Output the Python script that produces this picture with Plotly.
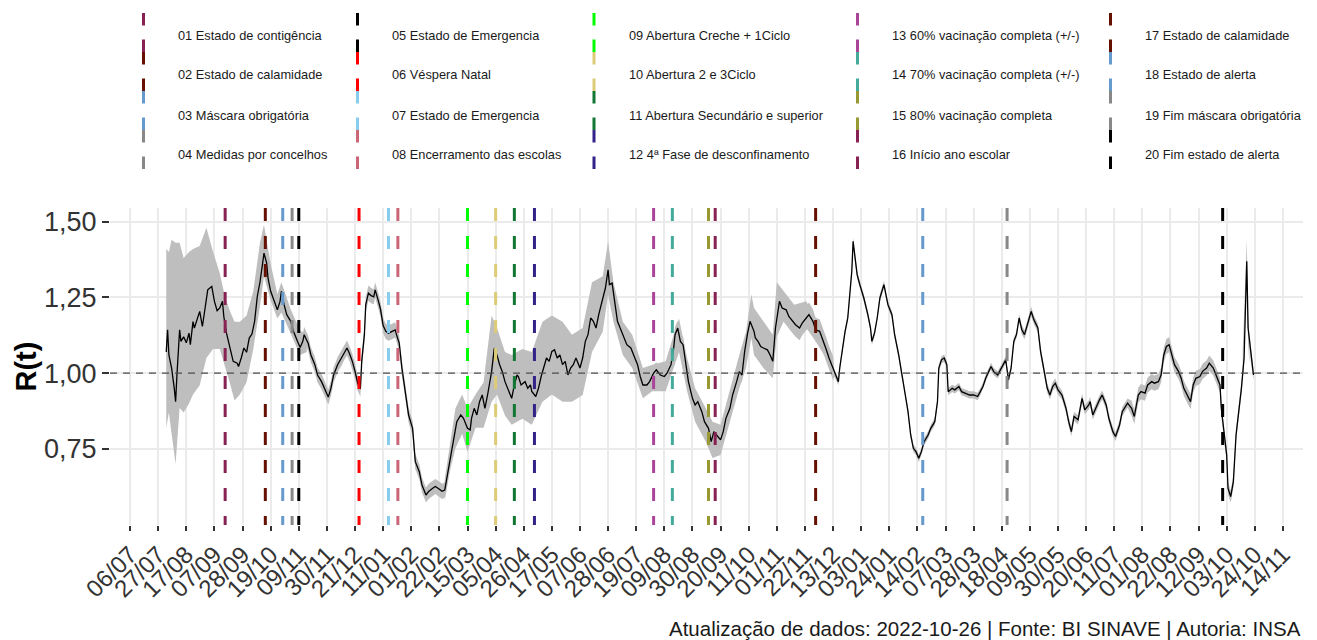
import pandas as pd
import plotly.graph_objects as go

# ---------------- data ----------------
START = "2020-08-01"  # day 0 of the series

# R(t) estimate: day index since START and value
rt_day = [1, 2, 3, 5, 7, 8, 9, 11, 12, 14, 16, 18, 19, 21, 22, 24, 26, 28, 30, 32,
          35, 37, 39, 41, 43, 44, 46, 49, 51, 54, 55, 57, 59, 61, 63, 65, 67, 69, 71, 73,
          74, 76, 77, 79, 82, 84, 86, 87, 89, 91, 94, 96, 99, 101, 103, 104, 107, 109, 112, 114,
          117, 119, 122, 124, 126, 129, 132, 134, 136, 138, 140, 142, 144, 146, 147, 149, 150, 152, 154, 156,
          157, 159, 161, 163, 165, 167, 170, 172, 173, 175, 177, 180, 182, 185, 187, 190, 192, 195,
          197, 200, 202, 204, 207, 209, 211, 213, 216, 218, 221, 223, 226, 228, 229, 231, 233, 235, 237, 239,
          241, 243, 244, 246, 248, 250, 252, 254, 256, 258, 259, 261, 263, 264, 266, 269, 271, 273, 274, 277,
          279, 281, 283, 285, 287, 289, 291, 293, 295, 297, 299, 301, 303, 305, 307, 310, 312, 314, 316, 318,
          320, 322, 324, 325, 327, 329, 331, 332, 334, 336, 338, 340, 343, 345, 348, 350, 353, 355, 357, 360,
          362, 365, 367, 370, 373, 375, 378, 380, 381, 383, 385, 387, 389, 391, 394, 396, 398, 401, 403, 406,
          408, 410, 412, 415, 417, 419, 422, 424, 427, 429, 431, 433, 435, 437,
          440, 441, 443, 445, 447, 450, 452, 454, 456, 459, 461, 464, 466, 469, 471, 474, 476, 479, 481, 484,
          486, 489, 491, 494, 496, 499, 500, 503, 504, 506, 508, 510, 511, 513, 514, 515, 517, 519, 522, 525,
          527, 528, 530, 532, 534, 537, 538, 540, 543, 545, 548, 550, 553, 555, 557, 559, 561, 563, 565, 567,
          570, 572, 575, 577, 578, 580, 582, 584, 585, 588, 590, 593, 595, 598, 601, 604, 607, 609, 611, 613,
          616, 617, 619, 622, 624,
          628, 630, 632, 634, 636, 638, 640, 642, 644, 647, 649, 652, 654, 657, 659, 661, 663, 665, 667, 670,
          673, 675, 677, 679, 682, 685, 687, 690, 691, 693, 695, 698, 700, 703, 705, 708, 710, 713, 715, 719,
          722, 724, 727, 729, 732, 734, 737, 739, 742, 744, 746, 748, 750, 752, 754, 757, 759, 761, 764, 766,
          768, 770, 773, 775, 778, 780, 783, 785, 788, 789, 791, 793, 794, 796, 798, 800, 802, 804, 806, 807,
          808, 809, 811, 813]
rt_value = [1.07, 1.143, 1.06, 1.017, 0.95, 0.906, 0.995, 1.143, 1.105, 1.12, 1.10, 1.132, 1.094, 1.17, 1.149, 1.176, 1.204, 1.154, 1.22, 1.275,
            1.286, 1.237, 1.206, 1.215, 1.237, 1.187, 1.132, 1.072, 1.039, 1.033, 1.022, 1.05, 1.083, 1.069, 1.116, 1.129, 1.171, 1.253, 1.30, 1.363,
            1.396, 1.363, 1.314, 1.27, 1.237, 1.209, 1.237, 1.27, 1.226, 1.193, 1.171, 1.138, 1.105, 1.085, 1.105, 1.127, 1.099, 1.061, 1.028, 0.994,
            0.972, 0.95, 0.921, 0.95, 0.994, 1.028, 1.05, 1.069, 1.083, 1.063, 1.039, 1.006, 0.967, 0.948, 1.039, 1.127, 1.226, 1.264, 1.256, 1.252,
            1.275, 1.245, 1.212, 1.157, 1.138, 1.132, 1.138, 1.143, 1.127, 1.099, 1.017, 0.928, 0.862, 0.818, 0.708, 0.675, 0.631, 0.598,
            0.61, 0.62, 0.626, 0.62, 0.61, 0.614, 0.664, 0.719, 0.796, 0.84, 0.862, 0.851, 0.818, 0.813, 0.851, 0.884, 0.862, 0.906, 0.928, 0.884,
            0.928, 0.972, 1.005, 1.083, 1.06, 1.028, 1.005, 0.972, 0.95, 0.928, 0.917, 0.961, 0.994, 0.989, 0.961, 0.972, 0.95, 0.961, 0.94, 0.923,
            0.95, 0.989, 1.022, 1.05, 1.039, 1.072, 1.077, 1.05, 1.06, 1.028, 1.039, 0.994, 1.017, 1.028, 1.05, 1.017, 1.05, 1.105, 1.127, 1.182,
            1.171, 1.149, 1.193, 1.209, 1.248, 1.281, 1.341, 1.292, 1.297, 1.237, 1.171, 1.149, 1.116, 1.094, 1.083, 1.06, 1.028, 0.989, 0.961, 0.961,
            0.972, 1.0, 1.011, 0.994, 0.989, 1.0, 1.028, 1.083, 1.127, 1.149, 1.105, 1.094, 1.028, 0.972, 0.917, 0.895, 0.906, 0.873, 0.84, 0.818,
            0.774, 0.807, 0.796, 0.78, 0.807, 0.851, 0.884, 0.928, 0.972, 1.005, 0.994, 1.072, 1.127, 1.171,
            1.138, 1.116, 1.105, 1.088, 1.083, 1.077, 1.06, 1.039, 1.149, 1.237, 1.215, 1.209, 1.187, 1.171, 1.16, 1.149, 1.165, 1.182, 1.193, 1.171,
            1.143, 1.138, 1.116, 1.077, 1.05, 1.017, 1.0, 0.972, 1.017, 1.083, 1.138, 1.182, 1.237, 1.336, 1.435, 1.391, 1.325, 1.292, 1.248, 1.193,
            1.149, 1.105, 1.132, 1.182, 1.248, 1.292, 1.27, 1.226, 1.193, 1.127, 1.061, 1.006, 0.939, 0.873, 0.796, 0.752, 0.741, 0.719, 0.741, 0.774,
            0.796, 0.818, 0.84, 0.906, 1.017, 1.044, 1.05, 1.028, 0.939, 0.95, 0.945, 0.956, 0.939, 0.934, 0.928, 0.928, 0.923, 0.939, 0.956, 0.983,
            1.017, 1.022, 1.005, 0.994, 1.011,
            1.044, 0.978, 1.017, 1.105, 1.127, 1.182, 1.143, 1.127, 1.16, 1.204, 1.176, 1.149, 1.072, 0.994, 0.95, 0.928, 0.956, 0.967, 0.945, 0.928,
            0.884, 0.84, 0.807, 0.857, 0.846, 0.917, 0.879, 0.895, 0.906, 0.862, 0.884, 0.912, 0.928, 0.895, 0.851, 0.807, 0.791, 0.829, 0.873, 0.901,
            0.884, 0.857, 0.928, 0.939, 0.934, 0.961, 0.972, 0.967, 0.972, 0.994, 1.06, 1.088, 1.094, 1.06, 1.028, 1.006, 0.983, 0.95, 0.923, 0.906,
            0.961, 0.983, 0.989, 1.006, 1.017, 1.033, 1.017, 0.994, 0.961, 0.884, 0.796, 0.73, 0.62, 0.593, 0.642, 0.796, 0.873, 0.95, 1.05, 1.248,
            1.369, 1.149, 1.06, 0.994]

# narrow confidence half-width, by period (period starts at day)
band_hw_from_day = [0, 460, 500, 640, 720, 790]
band_hw = [0.025, 0.04, 0.012, 0.015, 0.025, 0.02]

# wide confidence bands (lower / upper) where the interval is broad
wide1_day = [1, 3, 5, 8, 11, 14, 18, 21, 26, 31, 36, 41, 45, 49, 52, 56, 61, 66, 71, 74, 79, 84, 87, 94, 101, 106]
wide1_lo = [0.82, 0.87, 0.80, 0.70, 0.885, 0.87, 0.90, 0.93, 0.96, 1.05, 1.08, 1.08, 1.02, 0.96, 0.91, 0.93, 0.97, 1.08, 1.22, 1.32, 1.24, 1.18, 1.20, 1.13, 1.06, 1.07]
wide1_hi = [1.41, 1.40, 1.44, 1.43, 1.43, 1.38, 1.40, 1.41, 1.42, 1.48, 1.40, 1.33, 1.25, 1.20, 1.17, 1.17, 1.19, 1.27, 1.43, 1.49, 1.36, 1.26, 1.30, 1.21, 1.14, 1.13]

wide2_day = [209, 213, 217, 222, 226, 232, 238, 244, 248, 254, 259, 267, 274, 282, 289, 297, 304, 312, 319, 327,
             331, 335, 342, 349, 357, 364, 374, 380, 384, 390, 396, 404, 409, 415, 421, 429, 434, 438, 440, 447,
             454, 457, 462, 470, 479, 486, 495]
wide2_lo = [0.58, 0.68, 0.752, 0.80, 0.74, 0.82, 0.82, 0.906, 0.93, 0.86, 0.83, 0.85, 0.83, 0.906, 0.93, 0.906, 0.906, 0.928, 1.07, 1.137,
            1.258, 1.17, 1.06, 1.017, 0.917, 0.94, 0.94, 1.017, 1.07, 0.94, 0.84, 0.774, 0.72, 0.73, 0.82, 0.95, 1.017, 1.116, 1.06, 1.017,
            0.983, 1.12, 1.17, 1.127, 1.149, 1.105, 1.04]
wide2_hi = [0.65, 0.76, 0.884, 0.93, 0.884, 0.93, 0.97, 1.19, 1.15, 1.07, 1.06, 1.08, 1.07, 1.17, 1.19, 1.17, 1.127, 1.149, 1.30, 1.32,
            1.435, 1.30, 1.17, 1.127, 1.017, 1.028, 1.039, 1.127, 1.18, 1.05, 0.95, 0.884, 0.84, 0.83, 0.93, 1.06, 1.137, 1.26, 1.215, 1.17,
            1.127, 1.30, 1.27, 1.226, 1.237, 1.18, 1.10]

wide3_day = [805, 807, 808, 809, 810]
wide3_lo = [1.00, 1.20, 1.32, 1.10, 1.03]
wide3_hi = [1.08, 1.31, 1.44, 1.20, 1.10]

# events (vertical dashed lines)
event_dates = ["2020-09-15", "2020-10-15", "2020-10-28", "2020-11-04", "2020-11-09",
               "2020-12-24", "2021-01-15", "2021-01-22", "2021-03-15", "2021-04-05",
               "2021-04-19", "2021-05-04", "2021-08-01", "2021-08-15", "2021-09-11",
               "2021-09-16", "2021-11-30", "2022-02-18", "2022-04-22", "2022-09-30"]
event_labels = ["01 Estado de contigência", "02 Estado de calamidade", "03 Máscara obrigatória",
                "04 Medidas por concelhos", "05 Estado de Emergencia", "06 Véspera Natal",
                "07 Estado de Emergencia", "08 Encerramento das escolas", "09 Abertura Creche + 1Ciclo",
                "10 Abertura 2 e 3Ciclo", "11 Abertura Secundário e superior", "12 4ª Fase de desconfinamento",
                "13 60% vacinação completa (+/-)", "14 70% vacinação completa (+/-)", "15 80% vacinação completa",
                "16 Início ano escolar", "17 Estado de calamidade", "18 Estado de alerta",
                "19 Fim máscara obrigatória", "20 Fim estado de alerta"]
event_colors = ["#882255", "#661100", "#6699CC", "#888888", "#000000",
                "#FF0000", "#88CCEE", "#CC6677", "#00FF00", "#DDCC77",
                "#117733", "#332288", "#AA4499", "#44AA99", "#999933",
                "#882255", "#661100", "#6699CC", "#888888", "#000000"]

TICK0 = "2020-07-06"
TICK_STEP_DAYS = 21
X_RANGE = ["2020-06-21", "2022-11-29"]
Y_RANGE = [0.499, 1.545]
Y_TICKS = [0.75, 1.00, 1.25, 1.50]
CAPTION = "Atualização de dados: 2022-10-26 | Fonte: BI SINAVE | Autoria: INSA"

# ---------------- figure ----------------
FONT = "Liberation Sans, Arial, sans-serif"
OFF = 8                      # page body margin in the browser
W, H = 1301, 632
PL, PR, PT, PB = 110, 1303, 208, 525   # plot area in page pixels
ML, MT = PL - OFF, PT - OFF
MR, MB = W - (PR - OFF), H - (PB - OFF)
PW, PH = PR - PL, PB - PT


def to_dates(days):
    return pd.Timestamp(START) + pd.to_timedelta(pd.Series(days), unit="D")


def px_x(px):
    return (px - PL) / PW


def px_y(py):
    return (PB - py) / PH


BAND = "rgb(190,190,190)"
fig = go.Figure()

# narrow band around the line
rt_dates = to_dates(rt_day)
hw = []
for d in rt_day:
    k = max(i for i, s in enumerate(band_hw_from_day) if s <= d)
    hw.append(band_hw[k])
lo = [v - h for v, h in zip(rt_value, hw)]
hi = [v + h for v, h in zip(rt_value, hw)]
fig.add_trace(go.Scatter(x=list(rt_dates) + list(rt_dates[::-1]), y=hi + lo[::-1],
                         fill="toself", fillcolor=BAND, line=dict(width=0),
                         mode="lines", hoverinfo="skip", showlegend=False))

for wd, wl, wh in [(wide1_day, wide1_lo, wide1_hi), (wide2_day, wide2_lo, wide2_hi),
                   (wide3_day, wide3_lo, wide3_hi)]:
    dd = to_dates(wd)
    fig.add_trace(go.Scatter(x=list(dd) + list(dd[::-1]), y=list(wh) + list(wl)[::-1],
                             fill="toself", fillcolor=BAND, line=dict(width=0),
                             mode="lines", hoverinfo="skip", showlegend=False))

fig.add_trace(go.Scatter(x=rt_dates, y=rt_value, mode="lines",
                         line=dict(color="black", width=1.3), showlegend=False))

shapes = []
# reference line at R = 1
shapes.append(dict(type="line", xref="paper", x0=0, x1=1, yref="y", y0=1, y1=1,
                   line=dict(color="#4D4D4D", width=1.4, dash="7px,6px"), layer="above"))
for dte, col in zip(event_dates, event_colors):
    shapes.append(dict(type="line", xref="x", x0=dte, x1=dte, yref="paper", y0=1, y1=0,
                       line=dict(color=col, width=3, dash="13px,15px"), layer="above"))

annotations = []
# legend (5 columns x 4 rows, column-major)
key_x = [143.5, 357.5, 594, 857.5, 1110.5]
text_x = [176, 390, 627, 890, 1143]
row_text_y = [35, 75, 115, 155]
row_key_top = [13, 52, 91, 130]
for i, (lab, col) in enumerate(zip(event_labels, event_colors)):
    c, r = i // 4, i % 4
    shapes.append(dict(type="line", xref="paper", yref="paper",
                       x0=px_x(key_x[c]), x1=px_x(key_x[c]),
                       y0=px_y(row_key_top[r]), y1=px_y(row_key_top[r] + 39),
                       line=dict(color=col, width=3, dash="12.5px,14px")))
    annotations.append(dict(text=lab, xref="paper", yref="paper", x=px_x(text_x[c]),
                            y=px_y(row_text_y[r]), xanchor="left", yanchor="middle",
                            showarrow=False, font=dict(family=FONT, size=12.8, color="#1a1a1a")))

annotations.append(dict(text="<b>R(t)</b>", xref="paper", yref="paper", x=px_x(25), y=0.5,
                        textangle=-90, xanchor="center", yanchor="middle", showarrow=False,
                        font=dict(family=FONT, size=29, color="black")))
annotations.append(dict(text=CAPTION, xref="paper", yref="paper", x=1, y=px_y(628),
                        xanchor="right", yanchor="middle", showarrow=False,
                        font=dict(family=FONT, size=20.5, color="#1a1a1a")))

fig.update_layout(
    width=W, height=H, margin=dict(l=ML, r=MR, t=MT, b=MB),
    paper_bgcolor="white", plot_bgcolor="white",
    separators=",.", font=dict(family=FONT, color="#333333"),
    shapes=shapes, annotations=annotations, showlegend=False,
    xaxis=dict(type="date", range=X_RANGE, tick0=TICK0, dtick=TICK_STEP_DAYS * 86400000,
               tickformat="%d/%m", tickangle=-45, showgrid=True, gridcolor="#EBEBEB",
               gridwidth=1.5, zeroline=False, showline=False, ticks="outside", ticklen=5,
               tickwidth=1.5, tickcolor="#333333", tickfont=dict(size=24, color="#333333")),
    yaxis=dict(range=Y_RANGE, tickvals=Y_TICKS, tickformat=".2f", showgrid=True,
               gridcolor="#EBEBEB", gridwidth=1.5, zeroline=False, showline=False,
               ticks="outside", ticklen=7, tickwidth=1.5, tickcolor="#333333",
               tickfont=dict(size=27, color="#333333")),
)

fig.write_html("out.html")
